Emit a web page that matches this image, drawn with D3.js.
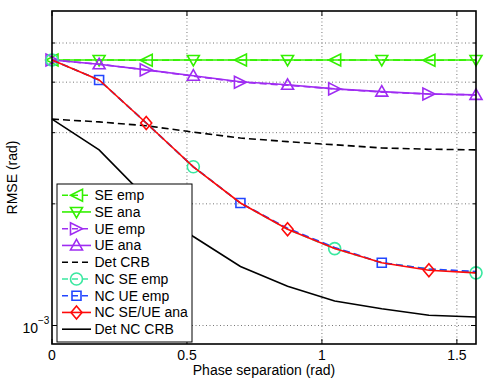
<!DOCTYPE html>
<html><head><meta charset="utf-8">
<script src="https://cdn.jsdelivr.net/npm/d3@7"></script>
<style>body{margin:0;background:#fff}svg{display:block;font-family:"Liberation Sans",Arial,sans-serif}</style>
</head><body><svg id="c" width="485" height="382"></svg>
<script>
const xs = [0, 0.1745, 0.3491, 0.5236, 0.6981, 0.8727, 1.0472, 1.2217, 1.3963, 1.5708];
const seEmp  = [4.54e-3,4.54e-3,4.53e-3,4.54e-3,4.54e-3,4.53e-3,4.54e-3,4.54e-3,4.53e-3,4.54e-3];
const seAna  = [4.54e-3,4.54e-3,4.54e-3,4.54e-3,4.54e-3,4.54e-3,4.54e-3,4.54e-3,4.54e-3,4.54e-3];
const ueEmp  = [4.54e-3,4.43e-3,4.29e-3,4.14e-3,4.00e-3,3.93e-3,3.85e-3,3.78e-3,3.74e-3,3.72e-3];
const ueAna  = [4.54e-3,4.43e-3,4.29e-3,4.15e-3,4.01e-3,3.94e-3,3.85e-3,3.79e-3,3.74e-3,3.72e-3];
const detCrb = [3.24e-3,3.19e-3,3.12e-3,3.01e-3,2.91e-3,2.85e-3,2.80e-3,2.75e-3,2.73e-3,2.72e-3];
const ncSeEmp= [4.54e-3,4.05e-3,3.17e-3,2.47e-3,2.01e-3,1.73e-3,1.55e-3,1.43e-3,1.38e-3,1.35e-3];
const ncUeEmp= [4.54e-3,4.05e-3,3.17e-3,2.47e-3,2.01e-3,1.74e-3,1.56e-3,1.43e-3,1.38e-3,1.36e-3];
const ncAna  = [4.54e-3,4.05e-3,3.17e-3,2.47e-3,2.01e-3,1.73e-3,1.55e-3,1.43e-3,1.37e-3,1.35e-3];
const detNcCrb=[3.24e-3,2.72e-3,2.07e-3,1.66e-3,1.40e-3,1.25e-3,1.15e-3,1.10e-3,1.06e-3,1.05e-3];
const xTicks = [0, 0.5, 1, 1.5];
const xTickLabels = ["0", "0.5", "1", "1.5"];
const yMinor = [2e-3, 3e-3, 4e-3, 5e-3];
const names = ["SE emp","SE ana","UE emp","UE ana","Det CRB","NC SE emp","NC UE emp","NC SE/UE ana","Det NC CRB"];

const GREEN="#33f000", PURPLE="#9f2cf2", MINT="#3ae8a0", BLUE="#2346ff", RED="#ff0a0a";
const series = [
  {name:names[0], v:seEmp, c:GREEN, dash:"7,4", m:"tleft", idx:[0,2,4,6,8]},
  {name:names[1], v:seAna, c:GREEN, dash:null, m:"tdown", idx:[1,3,5,7,9]},
  {name:names[2], v:ueEmp, c:PURPLE, dash:"7,4", m:"tright", idx:[0,2,4,6,8]},
  {name:names[3], v:ueAna, c:PURPLE, dash:null, m:"tup", idx:[1,3,5,7,9]},
  {name:names[4], v:detCrb, c:"#000", dash:"7,4", m:null, idx:[]},
  {name:names[5], v:ncSeEmp, c:MINT, dash:"7,4", m:"circle", idx:[0,3,6,9]},
  {name:names[6], v:ncUeEmp, c:BLUE, dash:"7,4", m:"square", idx:[1,4,7]},
  {name:names[7], v:ncAna, c:RED, dash:null, m:"diamond", idx:[2,5,8]},
  {name:names[8], v:detNcCrb, c:"#000", dash:null, m:null, idx:[]}
];

const L=52, R=476, T=11, B=344;
const x = d3.scaleLinear().domain([0, Math.PI/2]).range([L, R]);
const y = d3.scaleLog().domain([9e-4, 6e-3]).range([B, T]);
const svg = d3.select("#c");

// grid
const g = svg.append("g");
xTicks.filter(t=>t>0).forEach(t=>{
  g.append("line").attr("x1",x(t)).attr("x2",x(t)).attr("y1",T).attr("y2",B)
   .attr("stroke","#777").attr("stroke-dasharray","1,2.5");
});
[1e-3].concat(yMinor).forEach(t=>{
  g.append("line").attr("x1",L).attr("x2",R).attr("y1",y(t)).attr("y2",y(t))
   .attr("stroke","#777").attr("stroke-dasharray","1,2.5");
});

function markerPath(type, s){
  const h=s/2;
  switch(type){
    case "tleft": return `M${-h},0L${h},${-h}L${h},${h}Z`;
    case "tright": return `M${h},0L${-h},${-h}L${-h},${h}Z`;
    case "tup": return `M0,${-h}L${h},${h*0.75}L${-h},${h*0.75}Z`;
    case "tdown": return `M0,${h}L${h},${-h*0.75}L${-h},${-h*0.75}Z`;
    case "square": return `M${-4.5},${-4.5}h9v9h-9Z`;
    case "diamond": return `M0,${-6.5}L5.5,0L0,6.5L-5.5,0Z`;
    case "circle": return d3.symbol(d3.symbolCircle, 113)();
  }
}

const line = d3.line().x((d,i)=>x(xs[i])).y(d=>y(d));
const plot = svg.append("g");
series.forEach(s=>{
  const p = plot.append("path").datum(s.v).attr("d",line).attr("fill","none")
    .attr("stroke",s.c).attr("stroke-width",1.6);
  if(s.dash) p.attr("stroke-dasharray",s.dash);
  if(s.m){
    plot.selectAll(null).data(s.idx).enter().append("path")
      .attr("transform",i=>`translate(${x(xs[i])},${y(s.v[i])})`)
      .attr("d",markerPath(s.m,12)).attr("fill","none").attr("stroke",s.c).attr("stroke-width",1.6);
  }
});

// frame & ticks
const ax = svg.append("g").attr("stroke","#000");
ax.append("rect").attr("x",L).attr("y",T).attr("width",R-L).attr("height",B-T)
  .attr("fill","none").attr("stroke-width",1.6);
xTicks.forEach(t=>{
  ax.append("line").attr("x1",x(t)).attr("x2",x(t)).attr("y1",B).attr("y2",B-5);
  ax.append("line").attr("x1",x(t)).attr("x2",x(t)).attr("y1",T).attr("y2",T+5);
});
[1e-3].forEach(t=>{
  ax.append("line").attr("x1",L).attr("x2",L+5).attr("y1",y(t)).attr("y2",y(t));
  ax.append("line").attr("x1",R).attr("x2",R-5).attr("y1",y(t)).attr("y2",y(t));
});
yMinor.forEach(t=>{
  ax.append("line").attr("x1",L).attr("x2",L+3).attr("y1",y(t)).attr("y2",y(t));
  ax.append("line").attr("x1",R).attr("x2",R-3).attr("y1",y(t)).attr("y2",y(t));
});

// tick labels
const tl = svg.append("g").attr("font-size",14).attr("fill","#000");
xTicks.forEach((t,i)=>{
  tl.append("text").attr("x",x(t)).attr("y",360).attr("text-anchor","middle").text(xTickLabels[i]);
});
tl.append("text").attr("x",38).attr("y",y(1e-3)+7.5).attr("text-anchor","end").text("10");
tl.append("text").attr("x",38).attr("y",y(1e-3)-1.5).attr("font-size",10).text("\u22123");
tl.append("text").attr("x",(L+R)/2).attr("y",375).attr("text-anchor","middle").text("Phase separation (rad)");
tl.append("text").attr("transform",`translate(17,${(T+B)/2}) rotate(-90)`).attr("text-anchor","middle").text("RMSE (rad)");

// legend
const lg = svg.append("g");
lg.append("rect").attr("x",57).attr("y",184).attr("width",135).attr("height",158)
  .attr("fill","#fff").attr("stroke","#000").attr("stroke-width",1);
series.forEach((s,i)=>{
  const yy = 195.2 + i*16.75;
  const l = lg.append("line").attr("x1",62).attr("x2",91).attr("y1",yy).attr("y2",yy)
    .attr("stroke",s.c).attr("stroke-width",1.6);
  if(s.dash) l.attr("stroke-dasharray","6,4");
  if(s.m) lg.append("path").attr("transform",`translate(76.5,${yy})`).attr("d",markerPath(s.m,12))
      .attr("fill","none").attr("stroke",s.c).attr("stroke-width",1.6);
  lg.append("text").attr("x",94.5).attr("y",yy+5).attr("font-size",14).text(s.name);
});
</script></body></html>
